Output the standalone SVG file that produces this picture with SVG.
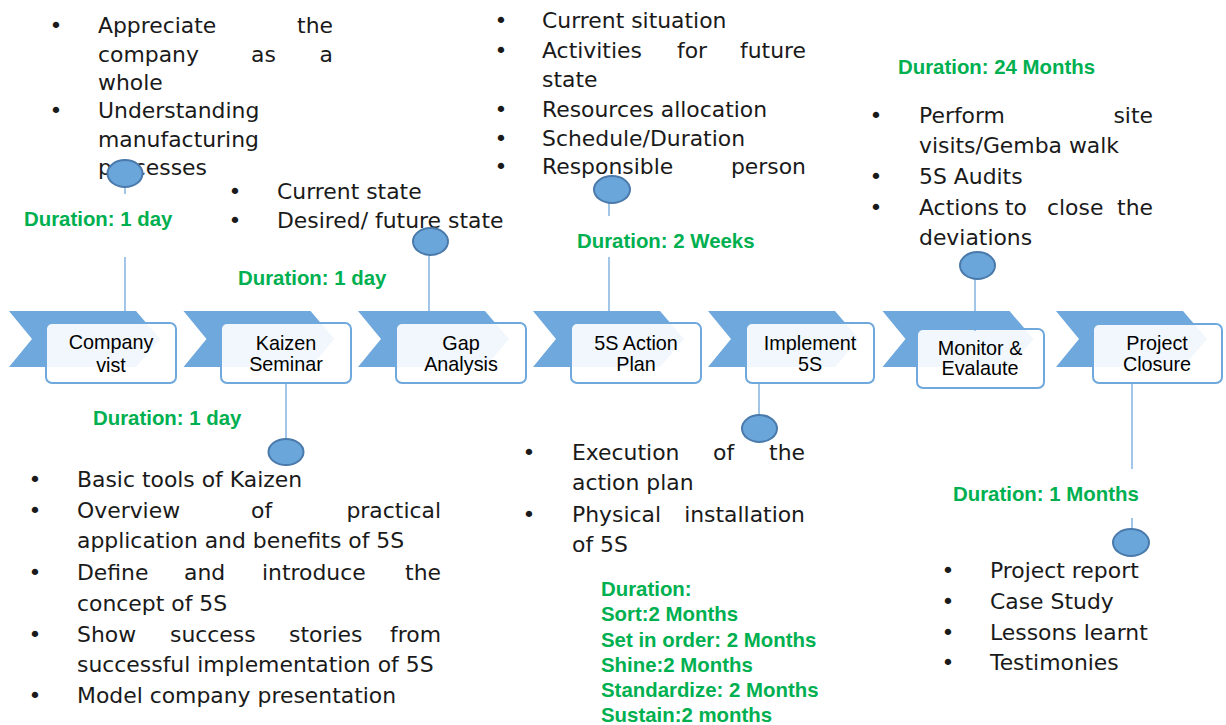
<svg xmlns="http://www.w3.org/2000/svg" width="1226" height="725" viewBox="0 0 1226 725">
  <style>
    .chev { fill: #6fa8dc; }
    .box { fill: #ffffff; fill-opacity: 0.9; stroke: #6fa8dc; stroke-width: 2; }
    .lbl { font-family: "Liberation Sans", Arial, sans-serif; font-size: 19.8px; fill: #000; text-anchor: middle; }
    .body { font-family: "DejaVu Sans", sans-serif; font-size: 21.9px; fill: #1a1a1a; }
    .end { text-anchor: end; }
    .dot { text-anchor: middle; }
    .dur { font-family: "Liberation Sans", Arial, sans-serif; font-weight: bold; font-size: 20.4px; fill: #00b050; }
    .conn line { stroke: #6fa8dc; stroke-width: 1.3; }
    .conn ellipse { fill: #6aa6da; stroke: #4a7aab; stroke-width: 2; }
  </style>
  <defs>
    <polygon id="chevron" points="0,311 127,311 151,339 127,367 0,367 23,339"/>
  </defs>
  <rect width="1226" height="725" fill="#ffffff"/>

  <!-- process steps -->
  <g id="step-company-visit">
    <use href="#chevron" x="9" class="chev"/>
    <rect class="box" x="46" y="323" width="130" height="60" rx="6"/>
    <text class="lbl" x="111" y="349">Company</text>
    <text class="lbl" x="111" y="372">vist</text>
  </g>
  <g id="step-kaizen-seminar">
    <use href="#chevron" x="183.5" class="chev"/>
    <rect class="box" x="221" y="323" width="130" height="60" rx="6"/>
    <text class="lbl" x="286" y="350">Kaizen</text>
    <text class="lbl" x="286" y="371">Seminar</text>
  </g>
  <g id="step-gap-analysis">
    <use href="#chevron" x="358" class="chev"/>
    <rect class="box" x="396" y="323" width="130" height="60" rx="6"/>
    <text class="lbl" x="461" y="350">Gap</text>
    <text class="lbl" x="461" y="371">Analysis</text>
  </g>
  <g id="step-action-plan">
    <use href="#chevron" x="533" class="chev"/>
    <rect class="box" x="571" y="323" width="130" height="60" rx="6"/>
    <text class="lbl" x="636" y="350">5S Action</text>
    <text class="lbl" x="636" y="371">Plan</text>
  </g>
  <g id="step-implement">
    <use href="#chevron" x="708" class="chev"/>
    <rect class="box" x="746" y="323" width="128" height="60" rx="6"/>
    <text class="lbl" x="810" y="350">Implement</text>
    <text class="lbl" x="810" y="371">5S</text>
  </g>
  <g id="step-monitor">
    <use href="#chevron" x="882.5" class="chev"/>
    <rect class="box" x="917" y="329" width="127" height="59" rx="6"/>
    <text class="lbl" x="980" y="355">Monitor &amp;</text>
    <text class="lbl" x="980" y="375">Evalaute</text>
  </g>
  <g id="step-closure">
    <use href="#chevron" x="1056" class="chev"/>
    <rect class="box" x="1093" y="324" width="129" height="59" rx="6"/>
    <text class="lbl" x="1157" y="350">Project</text>
    <text class="lbl" x="1157" y="371">Closure</text>
  </g>

  <!-- activity notes -->
  <g id="notes-company-visit">
    <text class="body dot" x="56" y="33">•</text>
    <text class="body" x="98" y="33">Appreciate</text>
    <text class="body end" x="333" y="33">the</text>
    <text class="body" x="98" y="62">company</text>
    <text class="body" x="251" y="62">as</text>
    <text class="body end" x="333" y="62">a</text>
    <text class="body" x="98" y="90">whole</text>
    <text class="body dot" x="56" y="118">•</text>
    <text class="body" x="98" y="118">Understanding</text>
    <text class="body" x="98" y="147">manufacturing</text>
    <text class="body" x="98" y="175">processes</text>
    <text class="dur" x="24" y="226">Duration: 1 day</text>
  </g>
  <g id="notes-gap-analysis">
    <text class="body dot" x="235" y="199">•</text>
    <text class="body" x="277" y="199">Current state</text>
    <text class="body dot" x="235" y="228">•</text>
    <text class="body" x="277" y="228">Desired/ future state</text>
    <text class="dur" x="238" y="285">Duration: 1 day</text>
  </g>
  <g id="notes-action-plan">
    <text class="body dot" x="501" y="28">•</text>
    <text class="body" x="542" y="28">Current situation</text>
    <text class="body dot" x="501" y="58">•</text>
    <text class="body" x="542" y="58">Activities</text>
    <text class="body" x="677" y="58">for</text>
    <text class="body end" x="806" y="58">future</text>
    <text class="body" x="542" y="87">state</text>
    <text class="body dot" x="501" y="117">•</text>
    <text class="body" x="542" y="117">Resources allocation</text>
    <text class="body dot" x="501" y="146">•</text>
    <text class="body" x="542" y="146">Schedule/Duration</text>
    <text class="body dot" x="501" y="174">•</text>
    <text class="body" x="542" y="174">Responsible</text>
    <text class="body end" x="806" y="174">person</text>
    <text class="dur" x="577" y="248">Duration: 2 Weeks</text>
  </g>
  <g id="notes-monitor">
    <text class="dur" x="898" y="74">Duration: 24 Months</text>
    <text class="body dot" x="876" y="123">•</text>
    <text class="body" x="919" y="123">Perform</text>
    <text class="body end" x="1153" y="123">site</text>
    <text class="body" x="919" y="153">visits/Gemba walk</text>
    <text class="body dot" x="876" y="184">•</text>
    <text class="body" x="919" y="184">5S Audits</text>
    <text class="body dot" x="876" y="215">•</text>
    <text class="body" x="919" y="215">Actions</text>
    <text class="body" x="1005" y="215">to</text>
    <text class="body" x="1047" y="215">close</text>
    <text class="body end" x="1153" y="215">the</text>
    <text class="body" x="919" y="245">deviations</text>
  </g>
  <g id="notes-kaizen-seminar">
    <text class="dur" x="93" y="425">Duration: 1 day</text>
    <text class="body dot" x="35" y="487">•</text>
    <text class="body" x="77" y="487">Basic tools of Kaizen</text>
    <text class="body dot" x="35" y="518">•</text>
    <text class="body" x="77" y="518">Overview</text>
    <text class="body" x="251" y="518">of</text>
    <text class="body end" x="441" y="518">practical</text>
    <text class="body" x="77" y="548">application and benefits of 5S</text>
    <text class="body dot" x="35" y="580">•</text>
    <text class="body" x="77" y="580">Define</text>
    <text class="body" x="184" y="580">and</text>
    <text class="body" x="262" y="580">introduce</text>
    <text class="body end" x="441" y="580">the</text>
    <text class="body" x="77" y="611">concept of 5S</text>
    <text class="body dot" x="35" y="642">•</text>
    <text class="body" x="77" y="642">Show</text>
    <text class="body" x="170" y="642">success</text>
    <text class="body" x="289" y="642">stories</text>
    <text class="body end" x="441" y="642">from</text>
    <text class="body" x="77" y="672">successful implementation of 5S</text>
    <text class="body dot" x="35" y="703">•</text>
    <text class="body" x="77" y="703">Model company presentation</text>
  </g>
  <g id="notes-implement">
    <text class="body dot" x="529" y="460">•</text>
    <text class="body" x="572" y="460">Execution</text>
    <text class="body" x="713" y="460">of</text>
    <text class="body end" x="805" y="460">the</text>
    <text class="body" x="572" y="490">action plan</text>
    <text class="body dot" x="529" y="522">•</text>
    <text class="body" x="572" y="522">Physical</text>
    <text class="body end" x="805" y="522">installation</text>
    <text class="body" x="572" y="552">of 5S</text>
    <text class="dur" x="601" y="596">Duration:</text>
    <text class="dur" x="601" y="621">Sort:2 Months</text>
    <text class="dur" x="601" y="647">Set in order: 2 Months</text>
    <text class="dur" x="601" y="672">Shine:2 Months</text>
    <text class="dur" x="601" y="697">Standardize: 2 Months</text>
    <text class="dur" x="601" y="722">Sustain:2 months</text>
  </g>
  <g id="notes-closure">
    <text class="dur" x="953" y="501">Duration: 1 Months</text>
    <text class="body dot" x="948" y="578">•</text>
    <text class="body" x="990" y="578">Project report</text>
    <text class="body dot" x="948" y="609">•</text>
    <text class="body" x="990" y="609">Case Study</text>
    <text class="body dot" x="948" y="640">•</text>
    <text class="body" x="990" y="640">Lessons learnt</text>
    <text class="body dot" x="948" y="670">•</text>
    <text class="body" x="990" y="670">Testimonies</text>
  </g>

  <!-- pins linking each step to its notes -->
  <g id="connectors" class="conn">
    <line x1="125" y1="187" x2="125" y2="194"/>
    <line x1="125" y1="257" x2="125" y2="311"/>
    <ellipse cx="125" cy="173.5" rx="17.5" ry="13.5"/>

    <line x1="286" y1="383" x2="286" y2="440"/>
    <ellipse cx="286" cy="452" rx="17.5" ry="13"/>

    <line x1="429" y1="255" x2="429" y2="311"/>
    <ellipse cx="430.5" cy="241.5" rx="17.5" ry="13.5"/>

    <line x1="609" y1="203" x2="609" y2="216"/>
    <line x1="609" y1="257" x2="609" y2="311"/>
    <ellipse cx="612" cy="189.5" rx="18" ry="13.5"/>

    <line x1="759" y1="383" x2="759" y2="415"/>
    <ellipse cx="759.5" cy="428.5" rx="17.5" ry="13.5"/>

    <line x1="975" y1="279" x2="975" y2="331"/>
    <ellipse cx="977.5" cy="265.5" rx="17.5" ry="13.5"/>

    <line x1="1132" y1="383" x2="1132" y2="469"/>
    <line x1="1132" y1="518" x2="1132" y2="529"/>
    <ellipse cx="1131" cy="542.5" rx="18" ry="13.5"/>
  </g>
</svg>
